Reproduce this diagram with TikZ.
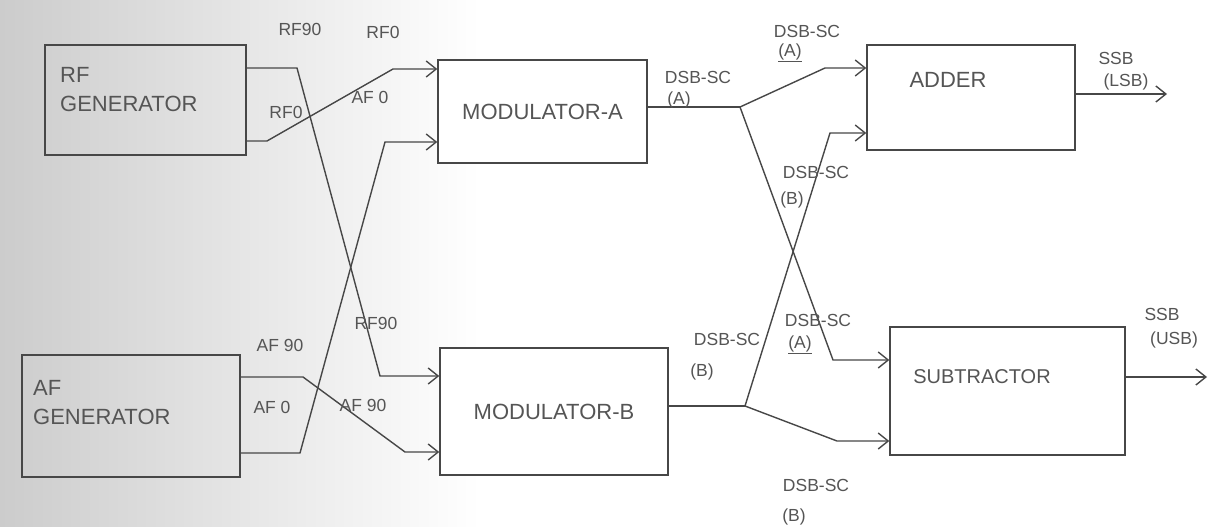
\documentclass[tikz,border=0pt]{standalone}
\usepackage{fontspec}
\setmainfont{Liberation Sans}
\usetikzlibrary{arrows.meta}
\definecolor{ink}{HTML}{474747}
\definecolor{txt}{HTML}{555555}

\begin{document}
\begin{tikzpicture}[x=1pt,y=-1pt,
  blk/.style={draw=ink,line width=1.4pt,rectangle,inner sep=0pt,text=txt,font=\fontsize{22}{28}\selectfont},
  btxt/.style={inner sep=0pt,text=txt,align=left,font=\fontsize{22}{29}\selectfont},
  sig/.style={inner sep=0pt,text=txt,font=\fontsize{17.5}{20}\selectfont},
  wire/.style={draw=ink,line width=1.4pt},
  arr/.style={wire,-{Straight Barb[length=10pt,width=16pt]}}]
\useasboundingbox (0,0) rectangle (1210,527);
\fill[white] (0,0) rectangle (1210,527);
\shade[left color=black!20,right color=white] (0,0) rectangle (480,527);

\node[blk,minimum width=201pt,minimum height=110pt] (rfg) at (145.5,100) {};
\node[btxt,anchor=west] (rfgt) at (60,90) {RF\\GENERATOR};
\node[blk,minimum width=218pt,minimum height=122pt] (afg) at (131,416) {};
\node[btxt,anchor=west] (afgt) at (33,403) {AF\\GENERATOR};
\node[blk,fill=white,minimum width=209pt,minimum height=103pt] (ma) at (542.5,111.5) {MODULATOR-A};
\node[blk,fill=white,minimum width=228pt,minimum height=127pt] (mb) at (554,411.5) {MODULATOR-B};
\node[blk,fill=white,minimum width=208pt,minimum height=105pt] (ad) at (971,97.5) {};
\node[btxt] (adt) at (948,80) {ADDER};
\node[blk,fill=white,minimum width=235pt,minimum height=128pt] (sb) at (1007.5,391) {};
\node[btxt,font=\fontsize{20}{24}\selectfont] (sbt) at (982,377) {SUBTRACTOR};

\coordinate (rfa) at (297,68);
\coordinate (rfb) at (380,376);
\coordinate (rfc) at (267,141);
\coordinate (rfd) at (393,69);
\coordinate (afa) at (303,377);
\coordinate (afb) at (405,452);
\coordinate (afc) at (300,453);
\coordinate (afd) at (385,142);
\coordinate (ja) at (740,107);
\coordinate (jaa) at (825,68);
\coordinate (jab) at (833,360);
\coordinate (jb) at (745,406);
\coordinate (jba) at (830,133);
\coordinate (jbb) at (837,441);
\coordinate (lsb) at (1167,94);
\coordinate (usb) at (1207,377);

\draw[arr] (rfg.east |- rfa) -- (rfa) -- (rfb) -- (mb.west |- rfb);
\draw[arr] (rfg.east |- rfc) -- (rfc) -- (rfd) -- (ma.west |- rfd);
\draw[arr] (afg.east |- afc) -- (afc) -- (afd) -- (ma.west |- afd);
\draw[arr] (afg.east |- afa) -- (afa) -- (afb) -- (mb.west |- afb);

\draw[wire] (ma.east |- ja) -- (ja);
\draw[arr] (ja) -- (jaa) -- (ad.west |- jaa);
\draw[arr] (ja) -- (jab) -- (sb.west |- jab);
\draw[wire] (mb.east |- jb) -- (jb);
\draw[arr] (jb) -- (jba) -- (ad.west |- jba);
\draw[arr] (jb) -- (jbb) -- (sb.west |- jbb);
\draw[arr] (ad.east |- lsb) -- (lsb);
\draw[arr] (sb.east |- usb) -- (usb);

\node[sig] (l1) at (300,29) {RF90};
\node[sig] (l2) at (383,32) {RF0};
\node[sig] (l3) at (286,112) {RF0};
\node[sig] (l4) at (370,97) {AF 0};
\node[sig] (l5) at (280,345) {AF 90};
\node[sig] (l6) at (272,407) {AF 0};
\node[sig] (l7) at (363,405) {AF 90};
\node[sig] (l8) at (376,323) {RF90};
\node[sig] (l9) at (698,77) {DSB-SC};
\node[sig] (l10) at (679,100) {(A)};
\node[sig] (l11) at (807,31) {DSB-SC};
\node[sig] (l12) at (790,53) {\underline{(A)}};
\node[sig] (l13) at (816,172) {DSB-SC};
\node[sig] (l14) at (792,200) {(B)};
\node[sig] (l15) at (727,339) {DSB-SC};
\node[sig] (l16) at (702,372) {(B)};
\node[sig] (l17) at (818,320) {DSB-SC};
\node[sig] (l18) at (800,345) {\underline{(A)}};
\node[sig] (l19) at (816,485) {DSB-SC};
\node[sig] (l20) at (794,517) {(B)};
\node[sig] (l21) at (1116,58) {SSB};
\node[sig] (l22) at (1126,82) {(LSB)};
\node[sig] (l23) at (1162,314) {SSB};
\node[sig] (l24) at (1174,340) {(USB)};
\end{tikzpicture}
\end{document}
